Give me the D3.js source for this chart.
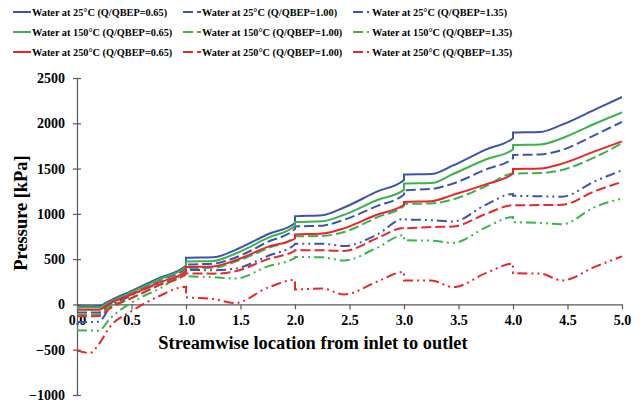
<!DOCTYPE html>
<html>
<head>
<meta charset="utf-8">
<script src="https://cdn.jsdelivr.net/npm/d3@7"></script>
<style>
  body { margin: 0; background: #fff; }
  svg text { font-family: "Liberation Serif", "Times New Roman", serif; font-weight: bold; fill: #000; }
  .axis path, .axis line { stroke: #595959; stroke-width: 1.2; }
  .axis text { font-size: 14px; }
</style>
</head>
<body>
<svg width="641" height="406"></svg>
<script>
// streamwise stations (duplicated x = step at stage interface)
var stations = [0, 0.12, 0.2, 0.3, 0.5, 0.75, 1, 1, 1.25, 1.45, 1.75, 2, 2, 2.25, 2.45, 2.75, 3, 3, 3.25, 3.45, 3.75, 4, 4, 4.25, 4.45, 4.75, 5];

// pressure [kPa]
var b65  = [-20, -20, -18, 40, 150, 290, 430, 515, 520, 600, 775, 900, 973, 985, 1070, 1245, 1375, 1434, 1440, 1535, 1710, 1835, 1899, 1905, 1985, 2150, 2290];
var b100 = [-90, -90, -88, 5, 125, 265, 400, 440, 450, 515, 690, 835, 860, 870, 935, 1085, 1215, 1260, 1275, 1335, 1490, 1615, 1650, 1656, 1705, 1870, 2016];
var b135 = [-195, -195, -190, -40, 100, 235, 365, 380, 378, 395, 535, 665, 671, 670, 645, 770, 945, 940, 930, 915, 1100, 1220, 1200, 1194, 1190, 1360, 1480];
var g65  = [-35, -35, -33, 25, 135, 275, 415, 475, 480, 560, 735, 870, 910, 918, 990, 1150, 1265, 1335, 1340, 1440, 1600, 1710, 1759, 1766, 1835, 1995, 2120];
var g100 = [-110, -110, -108, -25, 70, 215, 355, 400, 405, 470, 620, 745, 752, 756, 800, 960, 1090, 1110, 1115, 1160, 1305, 1445, 1445, 1450, 1485, 1625, 1780];
var g135 = [-285, -288, -290, -160, 20, 170, 320, 312, 302, 285, 420, 515, 523, 520, 485, 625, 765, 708, 705, 680, 850, 965, 910, 900, 885, 1075, 1170];
var r65  = [-60, -60, -58, 10, 110, 240, 370, 413, 420, 485, 635, 728, 771, 782, 840, 990, 1100, 1132, 1140, 1210, 1325, 1445, 1495, 1501, 1555, 1690, 1800];
var r100 = [-130, -130, -128, -45, 70, 210, 340, 342, 340, 365, 500, 595, 597, 598, 590, 730, 845, 840, 855, 860, 1000, 1095, 1095, 1097, 1100, 1250, 1353];
var r135 = [-510, -535, -440, -250, -75, 90, 195, 80, 60, 15, 185, 270, 165, 175, 110, 250, 360, 265, 265, 190, 345, 450, 345, 340, 265, 415, 530];

var labels = [
  "Water at 25°C (Q/QBEP=0.65)", "Water at 25°C (Q/QBEP=1.00)", "Water at 25°C (Q/QBEP=1.35)",
  "Water at 150°C (Q/QBEP=0.65)", "Water at 150°C (Q/QBEP=1.00)", "Water at 150°C (Q/QBEP=1.35)",
  "Water at 250°C (Q/QBEP=0.65)", "Water at 250°C (Q/QBEP=1.00)", "Water at 250°C (Q/QBEP=1.35)"
];
var values = [b65, b100, b135, g65, g100, g135, r65, r100, r135];
var colors = ["#3d55a6", "#3d55a6", "#3d55a6", "#3cb44b", "#3cb44b", "#3cb44b", "#e8262b", "#e8262b", "#e8262b"];
var dashes = [null, "10,4", "10,4,2,4,2,4", null, "10,4", "10,4,2,4,2,4", null, "10,4", "10,4,2,4,2,4"];

var xTicks = [0, 0.5, 1, 1.5, 2, 2.5, 3, 3.5, 4, 4.5, 5];
var yTicks = [-1000, -500, 0, 500, 1000, 1500, 2000, 2500];

var svg = d3.select("svg");

var x = d3.scaleLinear().domain([0, 5]).range([77, 622]);
var y = d3.scaleLinear().domain([-1000, 2500]).range([395, 78]);

// legend
var legend = svg.append("g");
labels.forEach(function(lab, i) {
  var col = i % 3, row = Math.floor(i / 3);
  var lx = [13, 183, 353][col], ly = 12 + row * 20;
  legend.append("line")
      .attr("x1", lx).attr("x2", lx + 18)
      .attr("y1", ly).attr("y2", ly)
      .attr("stroke", colors[i]).attr("stroke-width", 2)
      .attr("stroke-dasharray", dashes[i]);
  legend.append("text")
      .attr("x", lx + 19).attr("y", ly)
      .attr("dy", "0.35em")
      .style("font-size", "10.3px")
      .text(lab);
});

// axes
svg.append("g")
    .attr("class", "axis")
    .attr("transform", "translate(0," + y(0) + ")")
    .call(d3.axisBottom(x).tickValues(xTicks).tickFormat(d3.format(".1f"))
        .tickSizeInner(5).tickSizeOuter(0).tickPadding(6));

var yAxis = svg.append("g")
    .attr("class", "axis")
    .attr("transform", "translate(" + x(0) + ",0)")
    .call(d3.axisLeft(y).tickValues(yTicks).tickFormat(d3.format("d"))
        .tickSizeInner(4).tickSizeOuter(0).tickPadding(8));
yAxis.selectAll(".tick line").attr("x1", 4).attr("x2", -4);

// curves
var line = d3.line()
    .x(function(d) { return x(d[0]); })
    .y(function(d) { return y(d[1]); })
    .curve(d3.curveMonotoneX);

values.forEach(function(v, i) {
  svg.append("path")
      .datum(stations.map(function(s, j) { return [s, v[j]]; }))
      .attr("fill", "none")
      .attr("stroke", colors[i])
      .attr("stroke-width", 2)
      .attr("stroke-dasharray", dashes[i])
      .attr("d", line);
});

// axis titles
svg.append("text")
    .attr("x", 313).attr("y", 343)
    .attr("text-anchor", "middle").attr("dy", "0.35em")
    .style("font-size", "18.4px")
    .text("Streamwise location from inlet to outlet");

svg.append("text")
    .attr("transform", "translate(21,213) rotate(-90)")
    .attr("text-anchor", "middle").attr("dy", "0.35em")
    .style("font-size", "18.4px")
    .text("Pressure [kPa]");
</script>
</body>
</html>
